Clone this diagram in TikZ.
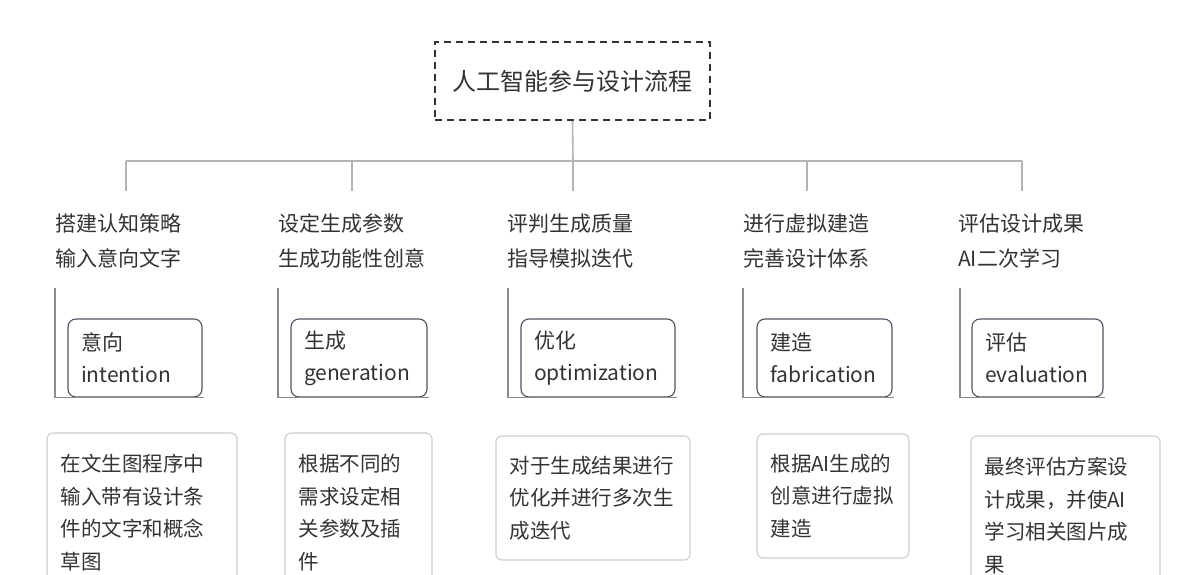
\documentclass[tikz,border=0pt]{standalone}
\usepackage{fontspec}
\setmainfont{Noto Sans CJK SC}
\definecolor{txt}{HTML}{333333}
\definecolor{busline}{HTML}{B4B4B4}
\definecolor{brk}{HTML}{8C8C8C}
\definecolor{mbord}{HTML}{4F5560}
\definecolor{nbord}{HTML}{CDCDCD}
\tikzset{
  titlebox/.style={draw=txt, line width=2pt, dash pattern=on 7pt off 5pt,
    minimum width=275pt, minimum height=78pt, inner sep=0pt,
    font=\fontsize{24}{30}\selectfont, text=txt},
  head/.style={anchor=base west, align=left, inner sep=0pt, text=txt,
    font=\fontsize{21}{35}\selectfont},
  stagebox/.style={draw=mbord, line width=1.1pt, rounded corners=8pt,
    minimum height=78pt, inner ysep=0pt, inner xsep=13pt, align=left, text=txt,
    font=\fontsize{21}{32}\selectfont},
  descbox/.style={draw=nbord, line width=1.1pt, rounded corners=6pt,
    inner ysep=0pt, inner xsep=13.5pt, align=left, text=txt,
    font=\fontsize{20.5}{32.5}\selectfont},
  bus/.style={draw=busline, line width=1.6pt},
  bracket/.style={draw=brk, line width=1.4pt},
}
\begin{document}
\begin{tikzpicture}[x=1pt,y=-1pt]
\useasboundingbox (0,0) rectangle (1200,575);
\clip (0,0) rectangle (1200,575);
\fill[white] (0,0) rectangle (1200,575);

% title
\node[titlebox] (title) at (572.5,81) {人工智能参与设计流程};

% bus coordinates
\coordinate (jc) at (573,161);
\coordinate (j1) at (126,161);
\coordinate (j5) at (1022,161);
\coordinate (d1) at (126,191);
\coordinate (d2) at (352,191);
\coordinate (d3) at (573,191);
\coordinate (d4) at (807,191);
\coordinate (d5) at (1022,191);
\draw[bus] (title.south) -- (jc);
\draw[bus] (j1) -- (j5);
\foreach \i in {1,...,5} { \draw[bus] (d\i |- jc) -- (d\i); }

% headings (base anchor = baseline of the last line)
\node[head] (h1) at (55,266) {搭建认知策略\\输入意向文字};
\node[head] (h2) at (278,266) {设定生成参数\\生成功能性创意};
\node[head] (h3) at (507,266) {评判生成质量\\指导模拟迭代};
\node[head] (h4) at (743,266) {进行虚拟建造\\完善设计体系};
\node[head] (h5) at (958,266) {评估设计成果\\AI二次学习};

% stage boxes
\node[stagebox, text width=108pt] (m1) at (135,358) {意向\\intention};
\node[stagebox, text width=110pt] (m2) at (359,358) {生成\\generation};
\node[stagebox, text width=128pt] (m3) at (598,358) {优化\\optimization};
\node[stagebox, text width=109pt] (m4) at (824.5,358) {建造\\fabrication};
\node[stagebox, text width=105pt] (m5) at (1037.5,358) {评估\\evaluation};

% brackets
\coordinate (k1) at (55,288);
\coordinate (k2) at (278,288);
\coordinate (k3) at (508,288);
\coordinate (k4) at (743,288);
\coordinate (k5) at (960,288);
\foreach \i in {1,...,5} {
  \draw[bracket] (k\i) |- ([xshift=1pt]m\i.south east);
}

% description boxes
\node[descbox, text width=163pt, minimum height=159pt] (n1) at (142,512.5)
  {在文生图程序中\\输入带有设计条\\件的文字和概念\\草图};
\node[descbox, text width=120pt, minimum height=159pt] (n2) at (358.5,512.5)
  {根据不同的\\需求设定相\\关参数及插\\件};
\node[descbox, text width=167pt, minimum height=124pt] (n3) at (593,498)
  {对于生成结果进行\\优化并进行多次生\\成迭代};
\node[descbox, text width=125pt, minimum height=124pt] (n4) at (833,496)
  {根据AI生成的\\创意进行虚拟\\建造};
\node[descbox, text width=162pt, minimum height=159pt] (n5) at (1065.5,515.5)
  {最终评估方案设\\计成果，并使AI\\学习相关图片成\\果};
\end{tikzpicture}
\end{document}
